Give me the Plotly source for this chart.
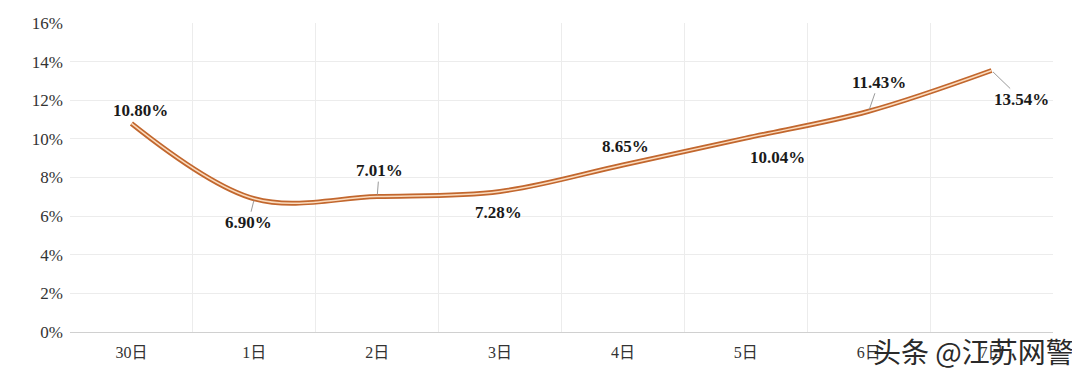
import plotly.graph_objects as go

categories = ["30日", "1日", "2日", "3日", "4日", "5日", "6日", "7日"]
values = [10.80, 6.90, 7.01, 7.28, 8.65, 10.04, 11.43, 13.54]
labels = ["10.80%", "6.90%", "7.01%", "7.28%", "8.65%", "10.04%", "11.43%", "13.54%"]
# label offsets in pixels (dx, dy), leader flag
offsets = [(9, -13, False), (-6, 24, True), (2, -26, True), (-2, 21, False),
           (3, -18, False), (32, 19, False), (10, -29, True), (30, 29, True)]

SERIF = "Liberation Serif, Noto Sans CJK SC, serif"

fig = go.Figure()
fig.add_trace(go.Scatter(x=categories, y=values, mode="lines",
                         line=dict(color="#c2672e", width=5, shape="spline", smoothing=1.0),
                         hoverinfo="skip", showlegend=False))
fig.add_trace(go.Scatter(x=categories, y=values, mode="lines",
                         line=dict(color="#fbdcbf", width=1.5, shape="spline", smoothing=1.0),
                         showlegend=False))

for c, v, t, (dx, dy, lead) in zip(categories, values, labels, offsets):
    if lead:
        fig.add_annotation(x=c, y=v, text="<b>%s</b>" % t, showarrow=True,
                           ax=dx, ay=dy, arrowhead=0, arrowwidth=1, arrowcolor="#9a9a9a",
                           standoff=2,
                           font=dict(family=SERIF, size=17, color="#1a1a1a"))
    else:
        fig.add_annotation(x=c, y=v, text="<b>%s</b>" % t, showarrow=False,
                           xshift=dx, yshift=-dy,
                           font=dict(family=SERIF, size=17, color="#1a1a1a"))

fig.add_annotation(xref="paper", yref="paper", x=1.0235, y=-0.06, xanchor="right", yanchor="middle",
                   text="头条 @江苏网警", showarrow=False,
                   font=dict(family="Noto Sans CJK SC", size=28, color="#2a2a2a"))

# page body has an 8px margin, so the figure is sized to end at the window edge
fig.update_layout(
    width=1072, height=360,
    margin=dict(l=62, r=27, t=15, b=36, autoexpand=False),
    paper_bgcolor="white", plot_bgcolor="white",
    font=dict(family=SERIF, size=16, color="#333333"),
)
fig.update_xaxes(type="category", tickson="boundaries", range=[-0.5, 7.5], automargin=False,
                 showgrid=True, gridcolor="#ececec",
                 showline=True, linecolor="#d0d0d0", ticks="", ticklabelstandoff=6,
                 tickfont=dict(family=SERIF, size=16, color="#333333"))
fig.update_yaxes(range=[0, 16], dtick=2, ticksuffix="%", showgrid=True, gridcolor="#ececec",
                 automargin=False, zeroline=False, showline=False, ticks="", ticklabelstandoff=6,
                 tickfont=dict(family=SERIF, size=17, color="#333333"))

fig.write_html("out.html")
